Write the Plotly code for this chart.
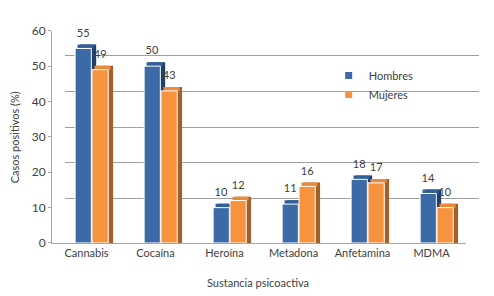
import plotly.graph_objects as go

categorias = ["Cannabis", "Cocaína", "Heroína", "Metadona", "Anfetamina", "MDMA"]
hombres = [55, 50, 10, 11, 18, 14]
mujeres = [49, 43, 12, 16, 17, 10]
y_ticks = [0, 10, 20, 30, 40, 50, 60]

FONT = "Lato"
BLUE, BLUE_TOP, BLUE_SIDE = "#3c6aa6", "#335f98", "#213f68"
ORANGE, ORANGE_TOP, ORANGE_SIDE = "#f7923f", "#eb8a3b", "#a65f28"
DEPTH_X = 0.07   # category units
DEPTH_Y = 1.1    # value units
LABEL_PAD = 0.8  # value units
W = 0.235
OFF_H, OFF_M = -0.165, 0.08

fig = go.Figure()

# back wall subplot (gridlines only)
fig.add_trace(go.Scatter(x=[0.5], y=[0], mode="markers", marker=dict(opacity=0),
                         hoverinfo="skip", showlegend=False, xaxis="x", yaxis="y"))

def add_series(vals, name, front, top, side, off):
    # side face
    fig.add_trace(go.Bar(x=categorias, y=[v + DEPTH_Y for v in vals], offset=off + DEPTH_X,
                         width=W, marker=dict(color=side, line=dict(width=0)),
                         showlegend=False, hoverinfo="skip", xaxis="x2", yaxis="y2"))
    # top face
    fig.add_trace(go.Bar(x=categorias, y=[DEPTH_Y] * len(vals), base=vals,
                         offset=off + DEPTH_X / 2, width=W,
                         marker=dict(color=top, line=dict(width=0)),
                         showlegend=False, hoverinfo="skip", xaxis="x2", yaxis="y2"))
    # front face
    fig.add_trace(go.Bar(x=categorias, y=vals, offset=off, width=W, name=name,
                         marker=dict(color=front, line=dict(color="white", width=1)),
                         showlegend=False, xaxis="x2", yaxis="y2"))
    # labels
    fig.add_trace(go.Bar(x=categorias, y=[v + DEPTH_Y + LABEL_PAD for v in vals],
                         offset=off, width=W,
                         marker=dict(color="rgba(0,0,0,0)", line=dict(width=0)),
                         text=[str(v) for v in vals], textposition="outside",
                         textfont=dict(family=FONT, size=11, color="#404040"),
                         cliponaxis=False, showlegend=False, hoverinfo="skip",
                         xaxis="x2", yaxis="y2"))

add_series(hombres, "Hombres", BLUE, BLUE_TOP, BLUE_SIDE, OFF_H)
add_series(mujeres, "Mujeres", ORANGE, ORANGE_TOP, ORANGE_SIDE, OFF_M)

for nm, col in [("Hombres", BLUE), ("Mujeres", ORANGE)]:
    fig.add_trace(go.Scatter(x=[None], y=[None], mode="markers", name=nm, legendgroup=nm,
                             marker=dict(symbol="square", size=7, color=col),
                             xaxis="x2", yaxis="y2"))

fig.update_layout(
    width=494, height=296,
    margin=dict(l=52, r=15, t=15, b=53),
    paper_bgcolor="white", plot_bgcolor="rgba(0,0,0,0)",
    barmode="overlay",
    font=dict(family=FONT, size=11, color="#404040"),
    xaxis=dict(domain=[0.030, 1], range=[0, 1], visible=False, fixedrange=True),
    yaxis=dict(domain=[0.0395, 1], range=[0, 60], tickvals=y_ticks, showticklabels=False,
               showgrid=True, gridcolor="#a0a0a0", gridwidth=1, zeroline=False,
               showline=False, ticks=""),
    xaxis2=dict(domain=[0, 0.9696], range=[-0.5, 5.5], anchor="y2", type="category",
                categoryorder="array", categoryarray=categorias,
                showline=True, linecolor="#a6a6a6", linewidth=1, ticks="",
                showgrid=False, tickfont=dict(family=FONT, size=11, color="#404040")),
    yaxis2=dict(domain=[0, 0.9518], range=[0, 60], anchor="x2", tickvals=y_ticks,
                showline=True, linecolor="#a6a6a6", linewidth=1, ticks="outside",
                ticklen=3, tickcolor="#a6a6a6", showgrid=False, zeroline=False,
                tickfont=dict(family=FONT, size=12, color="#404040")),
    legend=dict(x=0.648, y=0.816, xanchor="left", yanchor="top", tracegroupgap=0,
                font=dict(family=FONT, size=11, color="#404040"), bgcolor="rgba(0,0,0,0)"),
    annotations=[
        dict(text="Casos positivos (%)", xref="paper", yref="paper", x=-0.089, y=0.474,
             textangle=-90, showarrow=False, xanchor="center", yanchor="middle",
             font=dict(family=FONT, size=11, color="#404040")),
        dict(text="Sustancia psicoactiva", xref="paper", yref="paper", x=0.4824, y=-0.175,
             showarrow=False, xanchor="center", yanchor="middle",
             font=dict(family=FONT, size=11, color="#404040")),
    ],
)

fig.write_html("out.html", config={"displayModeBar": False},
               post_script="document.body.style.margin='0';")
